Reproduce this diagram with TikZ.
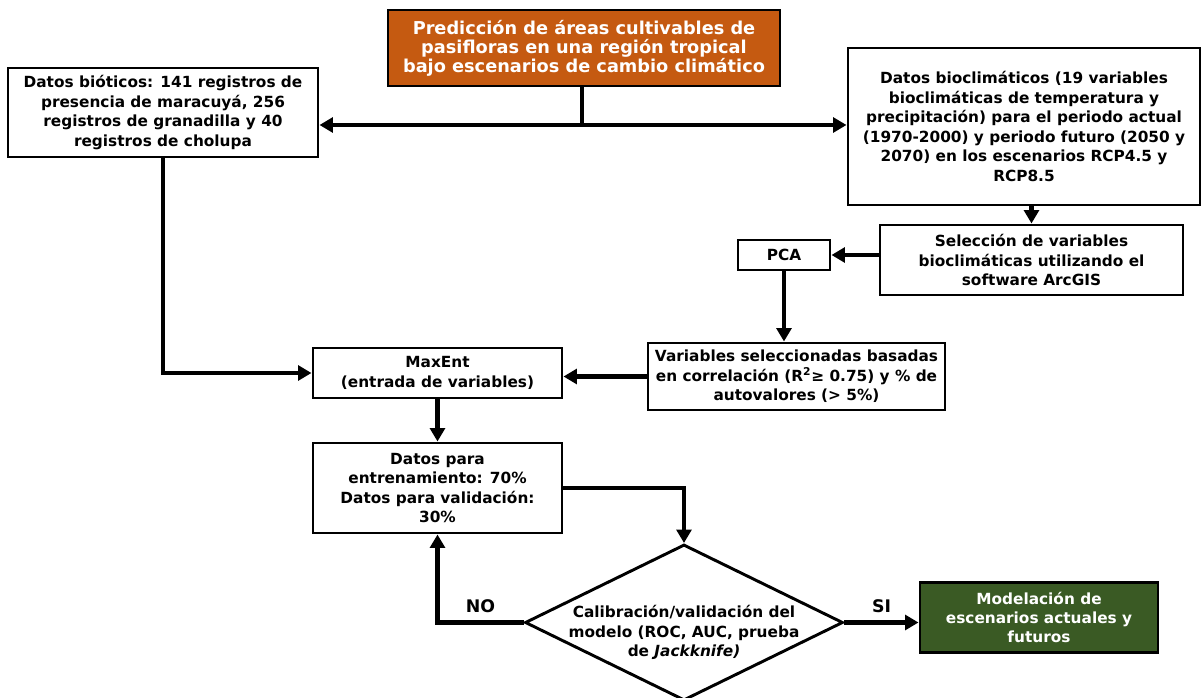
\documentclass[tikz,border=0pt]{standalone}
\usepackage{fontspec}
\setmainfont{DejaVu Sans}
\usepackage{tikz}
\usetikzlibrary{arrows.meta}
\usetikzlibrary{calc}
\usetikzlibrary{positioning}
\usetikzlibrary{shapes.geometric}
\definecolor{naranja}{HTML}{C55A11}
\definecolor{verde}{HTML}{3A5A24}
\begin{document}
\begin{tikzpicture}[
	x=0.75pt, y=-0.75pt,
  > = {Triangle[length=10pt,width=11pt]},
  caja/.style = {draw, line width=2.2pt, align=center, inner sep=0pt, font=\bfseries\fontsize{11.5}{14.6}\selectfont},
  flecha/.style = {->, line width=3.6pt},
  decision/.style = {draw, diamond, line width=2.2pt, aspect=2.05, inner xsep=-20pt, inner ysep=-12pt, align=center, font=\bfseries\fontsize{11.5}{14.6}\selectfont},
  etiqueta/.style = {font=\bfseries\fontsize{13}{15}\selectfont}
  ]
	\useasboundingbox (0,0) rectangle (1204,698);

	\node[caja, fill=naranja, text=white, minimum width=294pt, minimum height=57pt, font=\bfseries\fontsize{13.3}{14.2}\selectfont] (titulo) at (584,48) {Predicción de áreas cultivables de\\pasifloras en una región tropical\\bajo escenarios de cambio climático};
	\node[caja, minimum width=232.5pt, minimum height=66.75pt] (bioticos) at (163,112.5) {Datos bióticos: 141 registros de\\presencia de maracuyá, 256\\registros de granadilla y 40\\registros de cholupa};
	\node[caja, minimum width=264pt, minimum height=117.75pt] (bioclim) at (1024,126.5) {Datos bioclimáticos (19 variables\\bioclimáticas de temperatura y\\precipitación) para el periodo actual\\(1970-2000) y periodo futuro (2050 y\\2070) en los escenarios RCP4.5 y\\RCP8.5};
	\node[caja, minimum width=227.25pt, minimum height=52.5pt] (seleccion) at (1031.5,260) {Selección de variables\\bioclimáticas utilizando el\\software ArcGIS};
	\node[caja, minimum width=69pt, minimum height=22.5pt] (pca) at (784,255) {PCA};
	\node[caja, minimum width=222.75pt, minimum height=50.25pt] (varsel) at (796.5,376.5) {Variables seleccionadas basadas\\en correlación (R\textsuperscript{2}≥ 0.75) y \% de\\autovalores (> 5\%)};
	\node[caja, minimum width=186.75pt, minimum height=37.5pt] (maxent) at (437.5,373) {MaxEnt\\(entrada de variables)};
	\node[caja, minimum width=186.75pt, minimum height=67.5pt] (datos) at (437.5,488) {Datos para\\entrenamiento: 70\%\\Datos para validación:\\30\%};
	\node[decision, minimum width=238.5pt, minimum height=117pt] (calib) at (684,622.5) {\mbox{}\\[10pt]Calibración/validación del\\modelo (ROC, AUC, prueba\\de \textit{Jackknife)}};
	\node[caja, fill=verde, text=white, minimum width=178.5pt, minimum height=52pt] (modelo) at (1039,617.5) {Modelación de\\escenarios actuales y\\futuros};

	\coordinate (@1) at (582,125);

	\draw[line width=3.6pt] (titulo.south -| @1) -- (@1);
	\draw[flecha] (@1) -- (@1 -| bioticos.east);
	\draw[flecha] (@1) -- (@1 -| bioclim.west);
	\draw[flecha] (seleccion.north |- bioclim.south) -- (seleccion.north);
	\draw[flecha] (seleccion.west |- pca.east) -- (pca.east);
	\draw[flecha] (pca.south) -- (pca.south |- varsel.north);
	\draw[flecha] (varsel.west) -- (varsel.west -| maxent.east);
	\draw[flecha] (bioticos.south) |- (maxent.west);
	\draw[flecha] (maxent.south) -- (datos.north);
	\draw[flecha] (datos.east) -| (calib.north);
	\draw[flecha] (calib.west) -| node[pos=0.25, above=2pt, etiqueta] {NO} (datos.south);
	\draw[flecha] (calib.east) -- node[above=2pt, etiqueta] {SI} (calib.east -| modelo.west);

\end{tikzpicture}
\end{document}
